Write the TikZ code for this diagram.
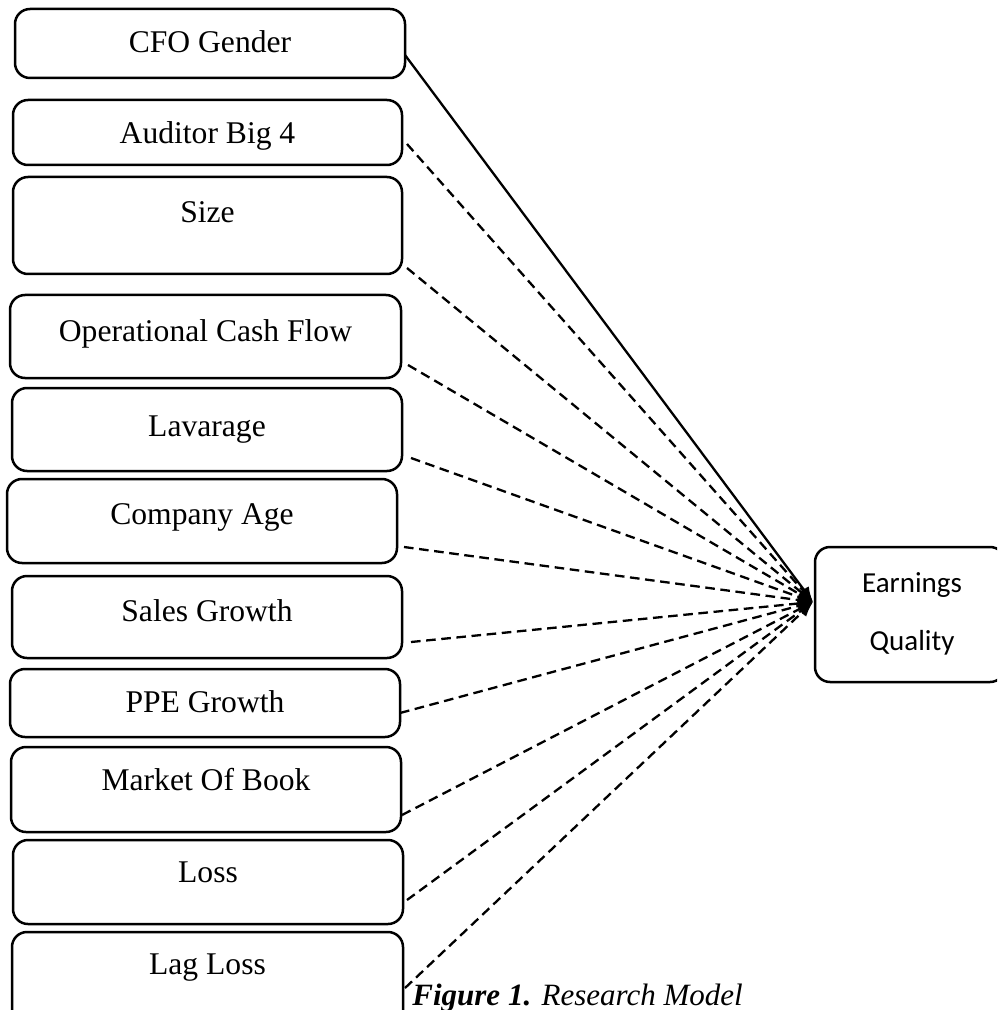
\documentclass[tikz,border=0pt]{standalone}
\usepackage{fontspec}
\setmainfont{Liberation Serif}
\newfontfamily\calfont{Carlito}
\usetikzlibrary{arrows.meta}

\begin{document}
\begin{tikzpicture}[x=0.5pt,y=-0.5pt,
  varbox/.style={draw, line width=1.25pt, rounded corners=7.5pt, inner sep=0pt},
  vartext/.style={anchor=base, inner sep=0pt, font=\fontsize{15.8}{18}\selectfont},
  link/.style={line width=1.15pt, -{Latex[length=7.5pt,width=6pt]}},
  dlink/.style={link, dash pattern=on 4.8pt off 2.8pt}]
\useasboundingbox (0,0) rectangle (997,1010);
\clip (0,0) rectangle (997,1010);

% independent and control variables: box corners, text baseline, label
\foreach \n/\l/\t/\r/\b/\base/\txt in {
  b1/15/9/405/78/53/{CFO Gender},
  b2/13/100/402/165/144/{Auditor Big 4},
  b3/13/177/402/274/223/{Size},
  b4/10/295/401/378/342/{Operational Cash Flow},
  b5/12/388/402/471/436/{Lavarage},
  b6/7/479/397/563/524/{Company Age},
  b7/12/576/402/658/621/{Sales Growth},
  b8/10/669/400/737/712/{PPE Growth},
  b9/11/747/401/832/790/{Market Of Book},
  b10/13/840/403/924/882/{Loss},
  b11/12/932/403/1030/974/{Lag Loss}}{
  \node[varbox, minimum width={(\r-\l)*0.5pt}, minimum height={(\b-\t)*0.5pt}]
    (\n) at ({(\l+\r)/2},{(\t+\b)/2}) {};
  \node[vartext] (\n t) at ({(\l+\r)/2},\base) {\txt};
}

% dependent variable
\node[varbox, minimum width=95pt, minimum height=67.5pt] (eq) at (910,614.5) {};
\node[inner sep=0pt, anchor=base, font=\calfont\fontsize{14.5}{17}\selectfont] (eq1) at (912,592) {Earnings};
\node[inner sep=0pt, anchor=base, font=\calfont\fontsize{14.5}{17}\selectfont] (eq2) at (912,650) {Quality};

% connector end points
\coordinate (hub) at (813,602);
\coordinate (s1) at (405,55);
\coordinate (s2) at (407,144);
\coordinate (s3) at (407,268);
\coordinate (s4) at (408,365);
\coordinate (s5) at (411,458);
\coordinate (s6) at (404,547);
\coordinate (s7) at (411,642);
\coordinate (s8) at (400,713);
\coordinate (s9) at (402,815);
\coordinate (s10) at (407,900);
\coordinate (s11) at (405,988);

\draw[link] (s1) -- (hub);
\foreach \i in {2,...,11}{
  \draw[dlink] (s\i) -- (hub);
}

% caption
\node[anchor=base west, inner sep=0pt, font=\fontsize{15.5}{18}\selectfont] (cap) at (412,1005)
  {\textbf{\textit{Figure 1.}} \textit{Research Model}};
\end{tikzpicture}
\end{document}
